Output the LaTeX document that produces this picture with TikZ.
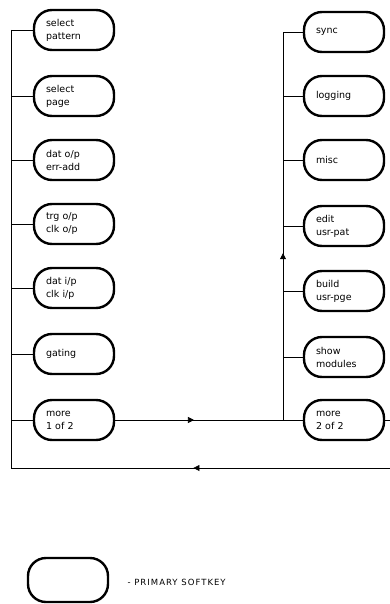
\documentclass[tikz,border=0pt]{standalone}
\usepackage{fontspec}
\setmainfont{DejaVu Sans}
\usetikzlibrary{positioning,arrows.meta,decorations.markings}

\begin{document}
\begin{tikzpicture}[
  x=1pt, y=-1pt,
  >={Triangle[length=6pt,width=6pt]},
  softkey/.style={draw, line width=2.4pt, rounded corners=18pt, minimum width=80pt,
                  minimum height=40pt, text width=56pt, align=left,
                  font=\fontsize{9.5}{13}\selectfont},
  wire/.style={line width=0.6pt},
  arrowat/.style={postaction={decorate}, decoration={markings,
                  mark=at position #1 with {\arrow{>}}}}
]
\useasboundingbox (0,0) rectangle (390,604);

% --- Left column: page 1 of 2 ---
\node[softkey] (selpat) at (74,30)  {select\\pattern};
\node[softkey] (selpg)  at (74,96)  {select\\page};
\node[softkey] (datop)  at (74,160) {dat o/p\\err-add};
\node[softkey] (trgop)  at (74,224) {trg o/p\\clk o/p};
\node[softkey] (datip)  at (74,288) {dat i/p\\clk i/p};
\node[softkey] (gating) at (74,354) {gating};
\node[softkey] (more1)  at (74,420) {more\\1 of 2};

% --- Right column: page 2 of 2 ---
\node[softkey] (sync)   at (344,32)  {sync};
\node[softkey] (logg)   at (344,96)  {logging};
\node[softkey] (misc)   at (344,160) {misc};
\node[softkey] (edpat)  at (344,226) {edit\\usr-pat};
\node[softkey] (bldpg)  at (344,291) {build\\usr-pge};
\node[softkey] (shmod)  at (344,357) {show\\modules};
\node[softkey] (more2)  at (344,420) {more\\2 of 2};

% --- Bus corners ---
\coordinate (ltop) at (11,30);
\coordinate (lbot) at (11,468);
\coordinate (rbot) at (391,468);
\coordinate (rout) at (391,420);
\coordinate (rjoin) at (283,420);
\coordinate (rtop) at (283,32);

% --- Left bus and branches ---
\draw[wire] (ltop) -- (lbot);
\foreach \k in {selpat,selpg,datop,trgop,datip,gating,more1}
  \draw[wire] (\k.west) -- (ltop |- \k.west);

% --- Forward to page 2 ---
\draw[wire, arrowat=0.42] (more1.east) -- (more2.west);
\draw[wire, arrowat=0.43] (rjoin) -- (rtop);
\foreach \k in {sync,logg,misc,edpat,bldpg,shmod}
  \draw[wire] (\k.west) -- (rtop |- \k.west);

% --- Return loop to page 1 ---
\draw[wire] (more2.east) -- (rout) -- (rbot);
\draw[wire, arrowat=0.52] (rbot) -- (lbot);

% --- Legend ---
\node[softkey, minimum height=44pt] (legend) at (68,580) {};
\node[anchor=west, font=\fontsize{8.5}{10}\selectfont\addfontfeature{LetterSpace=12}]
  (legtxt) at (124,582) {- PRIMARY SOFTKEY};

\end{tikzpicture}
\end{document}
